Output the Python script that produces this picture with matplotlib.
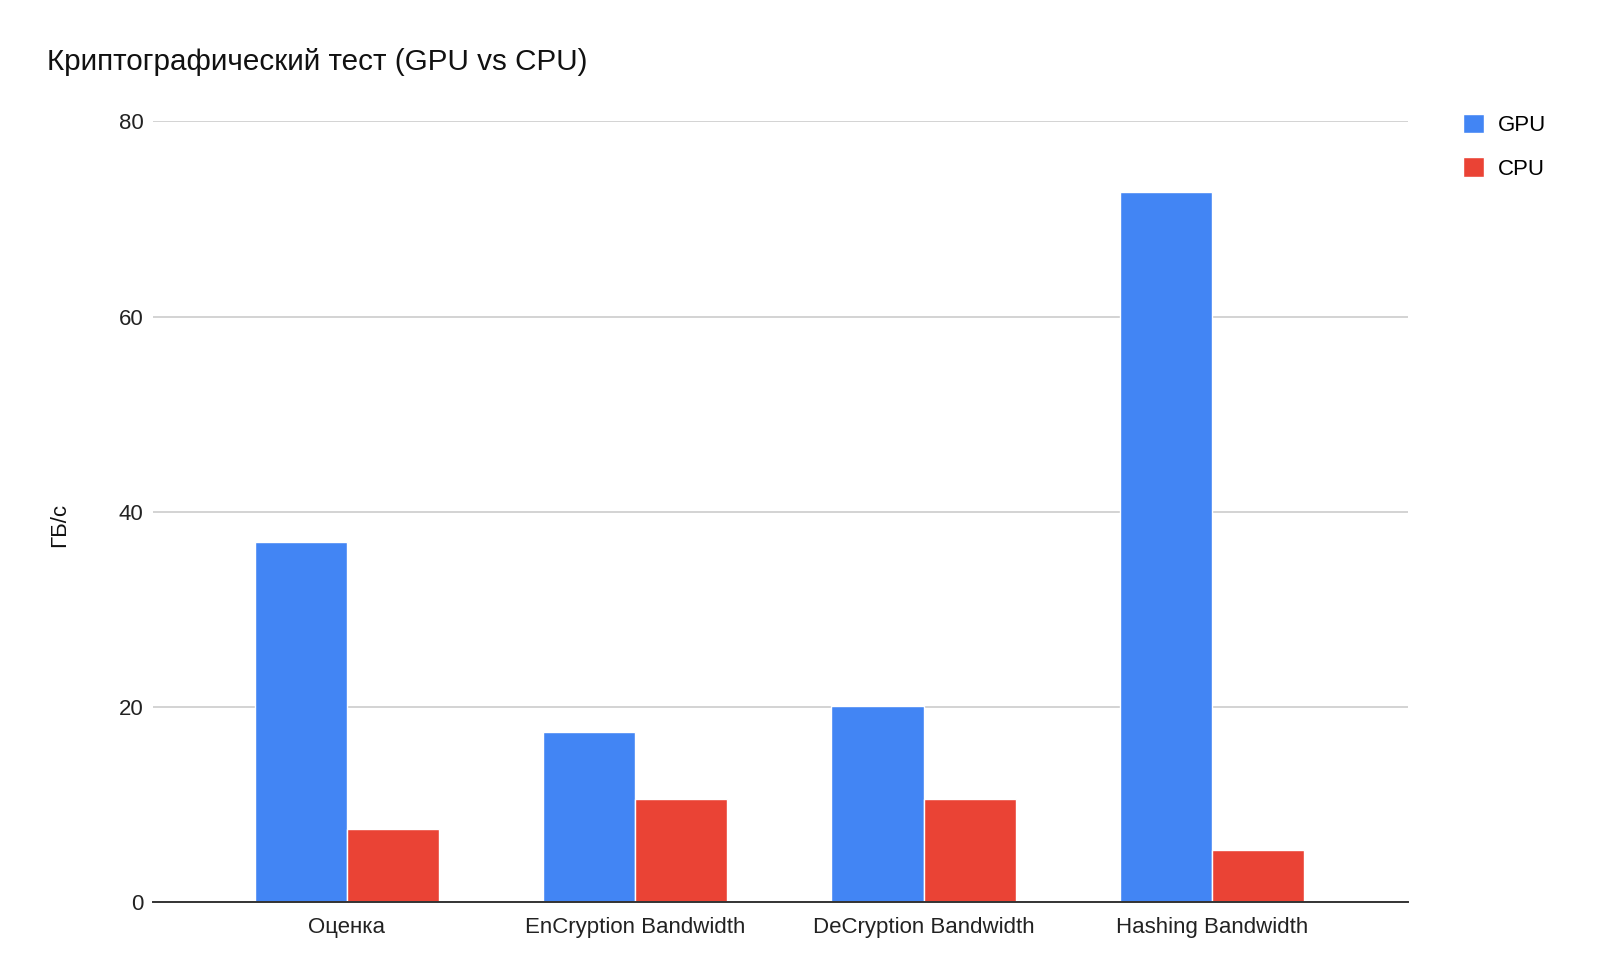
import matplotlib
matplotlib.use("Agg")
import matplotlib.pyplot as plt
import numpy as np

categories = ["Оценка", "EnCryption Bandwidth", "DeCryption Bandwidth", "Hashing Bandwidth"]
gpu = [36.9, 17.4, 20.1, 72.8]
cpu = [7.5, 10.6, 10.6, 5.3]
series_names = ["GPU", "CPU"]
colors = ["#4285F4", "#EA4335"]
yticks = [0, 20, 40, 60, 80]

plt.rcParams['font.family'] = ['Liberation Sans', 'DejaVu Sans']

fig = plt.figure(figsize=(16, 9.75), dpi=100)
ax = fig.add_axes([153/1600, 1-902/975, (1408-153)/1600, (902-121.4)/975])

x = np.arange(len(categories))
w = 0.32
b1 = ax.bar(x - w/2, gpu, w, color=colors[0], edgecolor='white', linewidth=1, label=series_names[0], zorder=3)
b2 = ax.bar(x + w/2, cpu, w, color=colors[1], edgecolor='white', linewidth=1, label=series_names[1], zorder=3)

ax.set_xlim(-0.672, 3.68)
ax.set_ylim(0, 80)
ax.set_yticks(yticks)
ax.set_yticklabels([str(t) for t in yticks], fontsize=16, color='#222222')
ax.set_xticks(x)
ax.set_xticklabels(categories, fontsize=16, color='#222222')
ax.tick_params(axis='both', length=0)
ax.tick_params(axis='y', pad=7)
ax.tick_params(axis='x', pad=11)
ax.grid(axis='y', color='#d0d0d0', linewidth=1.3, zorder=0)
for s in ['top', 'right', 'left']:
    ax.spines[s].set_visible(False)
ax.spines['bottom'].set_color('#333333')
ax.spines['bottom'].set_linewidth(1.4)
ax.spines['bottom'].set_zorder(4)

fig.text(47/1600, 1-62/975, "Криптографический тест (GPU vs CPU)", fontsize=21.3,
         color='#111111', ha='left', va='center')
fig.text(60/1600, 1-525/975, "ГБ/с", fontsize=16, rotation=90, ha='center', va='center', color='#111111')

leg = fig.legend(handles=[b1, b2], labels=series_names, loc='upper left',
                 bbox_to_anchor=(1443/1600, 1-94/975), frameon=False, fontsize=16,
                 handlelength=0.95, handleheight=0.95, handletextpad=0.6, labelspacing=0.95)

fig.savefig("out.png", dpi=100, facecolor='white')
